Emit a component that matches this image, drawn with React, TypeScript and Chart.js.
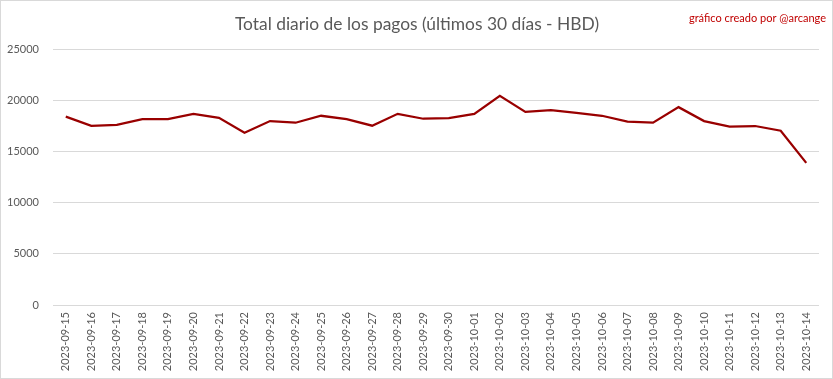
import React, { useEffect, useRef } from "react";
import { Chart, registerables } from "chart.js";

Chart.register(...registerables);

const dates = [
  "2023-09-15", "2023-09-16", "2023-09-17", "2023-09-18", "2023-09-19", "2023-09-20",
  "2023-09-21", "2023-09-22", "2023-09-23", "2023-09-24", "2023-09-25", "2023-09-26",
  "2023-09-27", "2023-09-28", "2023-09-29", "2023-09-30", "2023-10-01", "2023-10-02",
  "2023-10-03", "2023-10-04", "2023-10-05", "2023-10-06", "2023-10-07", "2023-10-08",
  "2023-10-09", "2023-10-10", "2023-10-11", "2023-10-12", "2023-10-13", "2023-10-14",
];

const payments = [
  18400, 17500, 17600, 18150, 18150, 18670, 18280, 16830, 17960, 17800,
  18480, 18150, 17510, 18670, 18190, 18250, 18670, 20420, 18860, 19030,
  18770, 18480, 17900, 17800, 19320, 17960, 17410, 17480, 17020, 13880,
];

const titleText = "Total diario de los pagos (últimos 30 días - HBD)";
const watermarkText = "gráfico creado por @arcange";
const yTicks = [0, 5000, 10000, 15000, 20000, 25000];

const FONT = "Lato, 'Open Sans', sans-serif";

const decorPlugin = {
  id: "decor",
  afterDraw(chart: any) {
    const ctx = chart.ctx;
    ctx.save();
    ctx.fillStyle = "#595959";
    ctx.font = `17.4px ${FONT}`;
    ctx.textAlign = "center";
    ctx.textBaseline = "middle";
    ctx.fillText(titleText, 416, 23);
    ctx.fillStyle = "#c00000";
    ctx.font = `11px ${FONT}`;
    ctx.textAlign = "right";
    ctx.fillText(watermarkText, 825, 17);
    ctx.restore();
  },
};

export default function App() {
  const ref = useRef<HTMLCanvasElement>(null);
  useEffect(() => {
    if (!ref.current) return;
    const chart = new Chart(ref.current, {
      type: "line",
      data: {
        labels: dates,
        datasets: [
          {
            data: payments,
            borderColor: "#990000",
            borderWidth: 2.25,
            pointRadius: 0,
            tension: 0,
            fill: false,
          },
        ],
      },
      options: {
        animation: false,
        responsive: false,
        maintainAspectRatio: false,
        layout: { padding: { left: 0, right: 13, top: 48, bottom: 0 } },
        plugins: { legend: { display: false }, tooltip: { enabled: false } },
        scales: {
          x: {
            offset: true,
            grid: { display: false, drawTicks: false },
            border: { display: false },
            ticks: {
              color: "#595959",
              font: { family: FONT, size: 11 },
              minRotation: 90,
              maxRotation: 90,
              autoSkip: false,
              padding: 7,
            },
            afterFit(scale: any) {
              scale.height = 73;
            },
          },
          y: {
            min: 0,
            max: 25000,
            afterBuildTicks(scale: any) {
              scale.ticks = yTicks.map((v) => ({ value: v }));
            },
            grid: { color: "#d9d9d9", drawTicks: false, lineWidth: 1 },
            border: { display: false },
            ticks: {
              color: "#595959",
              font: { family: FONT, size: 11 },
              padding: 14,
              callback: (v: any) => String(v),
            },
            afterFit(scale: any) {
              scale.width = 52;
            },
          },
        },
      },
      plugins: [decorPlugin],
    });
    return () => chart.destroy();
  }, []);
  return (
    <div
      style={{
        position: "absolute",
        left: 0,
        top: 0,
        width: 833,
        height: 379,
        boxSizing: "border-box",
        border: "1px solid #d9d9d9",
        background: "#fff",
      }}
    >
      <canvas ref={ref} width={831} height={377} style={{ display: "block" }} />
    </div>
  );
}
